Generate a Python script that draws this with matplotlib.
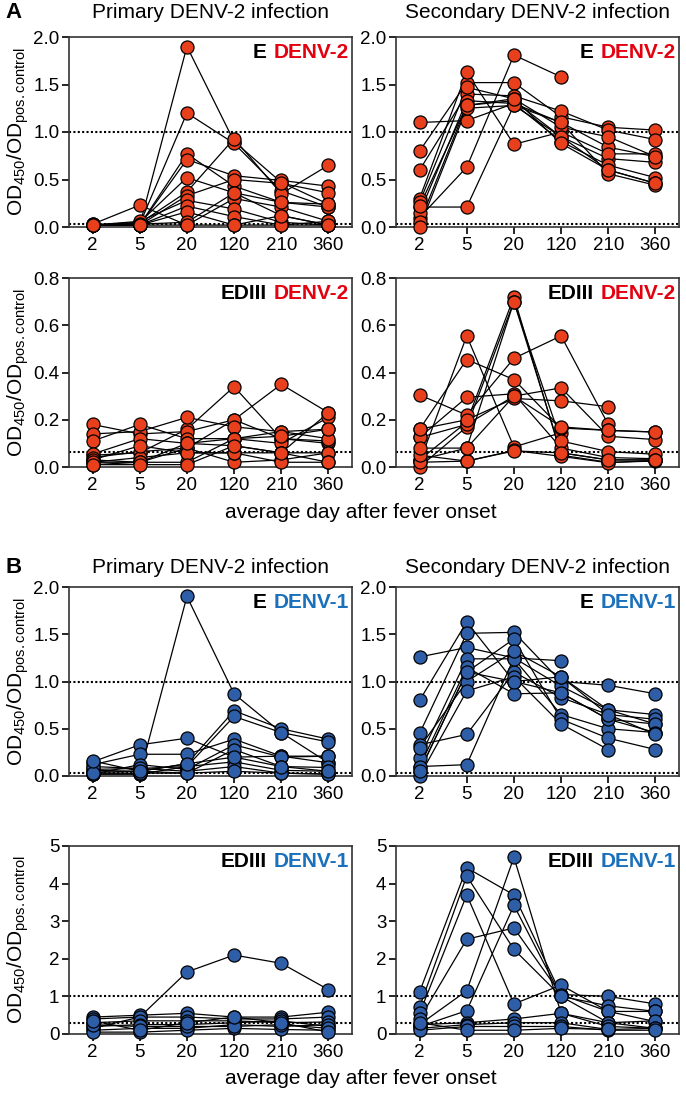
import numpy as np
import matplotlib
matplotlib.use('Agg')
import matplotlib.pyplot as plt
from matplotlib.ticker import FormatStrFormatter

plt.rcParams['font.family'] = ['Liberation Sans', 'DejaVu Sans']
plt.rcParams['mathtext.fontset'] = 'custom'
plt.rcParams['mathtext.rm'] = 'Liberation Sans'
plt.rcParams['mathtext.it'] = 'Liberation Sans:italic'

nan = np.nan
days = ['2', '5', '20', '120', '210', '360']

# A: binding to DENV-2 antigen, one row per patient
prim_e_d2 = [
    [0.02, 0.02, 1.90, 0.90, 0.47, 0.24],
    [0.02, 0.03, 1.20, 0.88, 0.38, 0.21],
    [0.03, 0.02, 0.77, 0.43, 0.26, 0.21],
    [0.02, 0.02, 0.71, 0.54, 0.49, 0.43],
    [0.03, 0.23, 0.02, 0.30, 0.21, 0.06],
    [0.02, 0.05, 0.52, 0.36, 0.12, 0.02],
    [0.02, 0.04, 0.37, 0.93, 0.35, 0.65],
    [0.02, 0.02, 0.33, 0.50, 0.46, 0.36],
    [0.02, 0.06, 0.28, 0.19, 0.05, 0.02],
    [0.02, 0.02, 0.22, 0.11, 0.02, 0.02],
    [0.02, 0.02, 0.16, 0.02, 0.02, 0.06],
    [0.02, 0.03, 0.05, 0.36, 0.26, 0.24],
    [0.02, 0.02, 0.02, 0.02, 0.12, 0.02],
]
sec_e_d2 = [
    [1.10, 1.12, 1.30, 1.10, 0.84, 0.74],
    [0.80, 1.52, 1.52, 1.16, 1.05, 1.02],
    [0.60, 1.40, 1.38, 1.22, 1.02, 0.92],
    [0.21, 0.21, 1.28, 0.95, 0.72, 0.68],
    [0.10, 0.63, 1.81, 1.58, nan, nan],
    [0.30, 1.63, 0.87, 1.00, 0.77, 0.77],
    [0.26, 1.47, 1.35, 1.05, 0.95, 0.74],
    [0.15, 1.33, 1.30, 0.90, 0.65, 0.52],
    [0.05, 1.28, 1.33, 0.95, 0.60, 0.46],
    [0.00, 1.25, 1.28, 1.10, 0.56, 0.44],
    [0.22, 1.28, 1.35, 0.88, 0.60, 0.46],
]
prim_ed3_d2 = [
    [0.05, 0.06, 0.16, 0.34, 0.12, 0.10],
    [0.03, 0.02, 0.08, 0.20, 0.35, 0.23],
    [0.18, 0.14, 0.15, 0.20, 0.12, 0.11],
    [0.14, 0.15, 0.21, 0.17, 0.15, 0.16],
    [0.11, 0.18, 0.12, 0.12, 0.10, 0.21],
    [0.055, 0.12, 0.10, 0.09, 0.06, 0.23],
    [0.04, 0.065, 0.08, 0.02, 0.03, 0.06],
    [0.02, 0.04, 0.06, 0.06, 0.06, 0.06],
    [0.01, 0.02, 0.02, 0.12, 0.15, 0.12],
    [0.03, 0.09, 0.06, 0.06, 0.02, 0.02],
    [0.02, 0.02, 0.10, 0.12, 0.13, 0.16],
    [0.01, 0.01, 0.01, 0.09, 0.06, 0.02],
]
sec_ed3_d2 = [
    [0.305, 0.22, 0.46, 0.555, 0.18, nan],
    [0.02, 0.555, 0.085, 0.145, nan, nan],
    [0.16, 0.455, 0.37, 0.165, 0.155, 0.148],
    [0.03, 0.19, 0.72, 0.05, 0.02, 0.025],
    [0.00, 0.17, 0.70, 0.06, 0.03, 0.03],
    [0.125, 0.295, 0.31, 0.08, 0.04, 0.035],
    [0.125, 0.18, 0.30, 0.335, 0.13, 0.116],
    [0.16, 0.20, 0.29, 0.28, 0.255, nan],
    [0.03, 0.08, 0.70, 0.11, 0.065, 0.054],
    [0.02, 0.025, 0.07, 0.045, 0.018, 0.028],
    [0.05, 0.025, 0.068, 0.06, 0.03, 0.03],
    [0.08, 0.08, 0.30, 0.17, 0.155, 0.148],
]

# B: binding to DENV-1 antigen
prim_e_d1 = [
    [0.02, 0.02, 1.90, 0.87, 0.46, 0.14],
    [0.15, 0.33, 0.40, 0.20, 0.21, 0.21],
    [0.04, 0.05, 0.13, 0.69, 0.50, 0.39],
    [0.07, 0.08, 0.10, 0.63, 0.46, 0.36],
    [0.12, 0.23, 0.23, 0.39, 0.21, 0.14],
    [0.02, 0.12, 0.07, 0.33, 0.20, 0.21],
    [0.06, 0.05, 0.03, 0.28, 0.10, 0.09],
    [0.02, 0.02, 0.10, 0.15, 0.06, 0.05],
    [0.10, 0.08, 0.05, 0.10, 0.03, 0.02],
    [0.03, 0.03, 0.03, 0.05, 0.03, 0.02],
    [0.16, 0.05, 0.13, 0.20, 0.10, 0.05],
]
sec_e_d1 = [
    [1.26, 1.36, 1.25, 1.22, nan, nan],
    [0.80, 1.63, 1.00, 0.88, 0.60, 0.55],
    [0.45, 1.51, 1.52, 1.00, 0.96, 0.87],
    [0.10, 0.12, 1.25, 0.95, 0.70, 0.65],
    [0.33, 0.44, 1.10, 0.83, 0.65, 0.60],
    [0.19, 1.24, 1.24, 0.65, 0.50, 0.46],
    [0.05, 1.10, 1.45, 0.60, 0.40, 0.28],
    [0.30, 1.00, 1.32, 1.05, 0.70, 0.55],
    [0.00, 0.90, 1.05, 0.55, 0.28, nan],
    [0.10, 1.15, 0.87, 0.88, 0.60, 0.46],
    [0.05, 1.10, 1.00, 1.05, 0.65, 0.44],
]
prim_ed3_d1 = [
    [0.15, 0.45, 1.65, 2.10, 1.88, 1.18],
    [0.45, 0.50, 0.55, 0.45, 0.45, 0.58],
    [0.40, 0.45, 0.45, 0.40, 0.40, 0.45],
    [0.30, 0.35, 0.35, 0.35, 0.30, 0.32],
    [0.20, 0.25, 0.25, 0.30, 0.35, 0.20],
    [0.10, 0.15, 0.15, 0.25, 0.20, 0.25],
    [0.05, 0.05, 0.10, 0.15, 0.12, 0.10],
    [0.25, 0.20, 0.20, 0.20, 0.25, 0.15],
    [0.35, 0.10, 0.30, 0.45, 0.30, 0.05],
]
sec_ed3_d1 = [
    [1.12, 4.42, 3.70, 1.05, 1.00, 0.80],
    [0.72, 4.20, 2.25, 1.00, 0.75, 0.60],
    [0.55, 3.70, 0.80, 1.30, 0.60, 0.33],
    [0.40, 2.52, 2.82, 1.05, 0.60, 0.60],
    [0.25, 1.15, 4.70, 0.55, 0.30, 0.15],
    [0.20, 0.62, 3.42, 1.00, 0.30, 0.35],
    [0.25, 0.30, 0.40, 0.55, 0.20, 0.15],
    [0.15, 0.25, 0.30, 0.30, 0.12, 0.15],
    [0.10, 0.20, 0.20, 0.20, 0.10, 0.10],
    [0.30, 0.10, 0.10, 0.15, 0.12, nan],
]

# dotted cut-off lines per panel
cut_e_d2 = [1.0, 0.03]
cut_ed3_d2 = [0.065]
cut_e_d1 = [1.0, 0.03]
cut_ed3_d1_prim = [1.0, 0.3]
cut_ed3_d1_sec = [1.0, 0.28]

RED = '#E8401C'
RED_TXT = '#E3000F'
BLUE = '#2F5EA8'
BLUE_TXT = '#1A70BA'

W, H = 686, 1094


def draw_panel(ax, data, cuts, ymax, yticks, yfmt, antigen, sero, col, txtcol):
    x = np.arange(len(days))
    for row in data:
        y = np.array(row, dtype=float)
        ok = ~np.isnan(y)
        ax.plot(x[ok], y[ok], '-', color='black', lw=0.9, zorder=2, clip_on=False)
    for row in data:
        y = np.array(row, dtype=float)
        ax.plot(x, y, 'o', ms=9.4, mfc=col, mec='black', mew=0.9,
                zorder=3, clip_on=False, linestyle='none')
    for c in cuts:
        ax.axhline(c, color='black', lw=1.5, ls=(0, (1, 1.1)), zorder=1)
    ax.set_xlim(-0.5, 5.5)
    ax.set_ylim(0, ymax)
    ax.set_xticks(x)
    ax.set_xticklabels(days)
    ax.set_yticks(yticks)
    ax.yaxis.set_major_formatter(FormatStrFormatter(yfmt))
    ax.tick_params(labelsize=13.5, direction='out', length=5, width=1.2,
                   top=False, right=False, pad=2)
    for s in ax.spines.values():
        s.set_linewidth(1.2)
        s.set_color('#333333')
    t = ax.text(0.988, 0.92, sero, transform=ax.transAxes, ha='right',
                va='center', fontsize=15, fontweight='bold', color=txtcol)
    ax.annotate(antigen, xy=(0, 0.5), xycoords=t, xytext=(-5, 0),
                textcoords='offset points', ha='right', va='center',
                fontsize=15, fontweight='bold', color='black')


fig = plt.figure(figsize=(W / 100, H / 100), dpi=100)

col_left = [69, 396]
ax_w = 283
rows = [(37, 227), (278, 467), (587, 776), (846, 1034)]

panels = [
    (0, 0, prim_e_d2, cut_e_d2, 2.0, [0, 0.5, 1.0, 1.5, 2.0], '%.1f', 'E', 'DENV-2', RED, RED_TXT),
    (0, 1, sec_e_d2, cut_e_d2, 2.0, [0, 0.5, 1.0, 1.5, 2.0], '%.1f', 'E', 'DENV-2', RED, RED_TXT),
    (1, 0, prim_ed3_d2, cut_ed3_d2, 0.8, [0, 0.2, 0.4, 0.6, 0.8], '%.1f', 'EDIII', 'DENV-2', RED, RED_TXT),
    (1, 1, sec_ed3_d2, cut_ed3_d2, 0.8, [0, 0.2, 0.4, 0.6, 0.8], '%.1f', 'EDIII', 'DENV-2', RED, RED_TXT),
    (2, 0, prim_e_d1, cut_e_d1, 2.0, [0, 0.5, 1.0, 1.5, 2.0], '%.1f', 'E', 'DENV-1', BLUE, BLUE_TXT),
    (2, 1, sec_e_d1, cut_e_d1, 2.0, [0, 0.5, 1.0, 1.5, 2.0], '%.1f', 'E', 'DENV-1', BLUE, BLUE_TXT),
    (3, 0, prim_ed3_d1, cut_ed3_d1_prim, 5, [0, 1, 2, 3, 4, 5], '%d', 'EDIII', 'DENV-1', BLUE, BLUE_TXT),
    (3, 1, sec_ed3_d1, cut_ed3_d1_sec, 5, [0, 1, 2, 3, 4, 5], '%d', 'EDIII', 'DENV-1', BLUE, BLUE_TXT),
]

ylab = r'$\mathregular{OD_{450}/OD_{pos.control}}$'
for r, c, data, cuts, ymax, yt, fmt, ag, sero, col, tcol in panels:
    top, bot = rows[r]
    ax = fig.add_axes([col_left[c] / W, 1 - bot / H, ax_w / W, (bot - top) / H])
    draw_panel(ax, data, cuts, ymax, yt, fmt, ag, sero, col, tcol)
    if c == 0:
        fig.text(18 / W, 1 - (top + bot) / 2 / H, ylab, rotation=90,
                 ha='center', va='center', fontsize=15)

# column titles and panel letters
for y in [13, 568]:
    fig.text((col_left[0] + ax_w / 2) / W, 1 - y / H, 'Primary DENV-2 infection',
             ha='center', va='center', fontsize=15)
    fig.text((col_left[1] + ax_w / 2) / W, 1 - y / H, 'Secondary DENV-2 infection',
             ha='center', va='center', fontsize=15)
fig.text(14 / W, 1 - 13 / H, 'A', ha='center', va='center', fontsize=16, fontweight='bold')
fig.text(14 / W, 1 - 568 / H, 'B', ha='center', va='center', fontsize=16, fontweight='bold')

for y in [513, 1078]:
    fig.text(361 / W, 1 - y / H, 'average day after fever onset',
             ha='center', va='center', fontsize=15)

fig.savefig('out.png', dpi=100)
